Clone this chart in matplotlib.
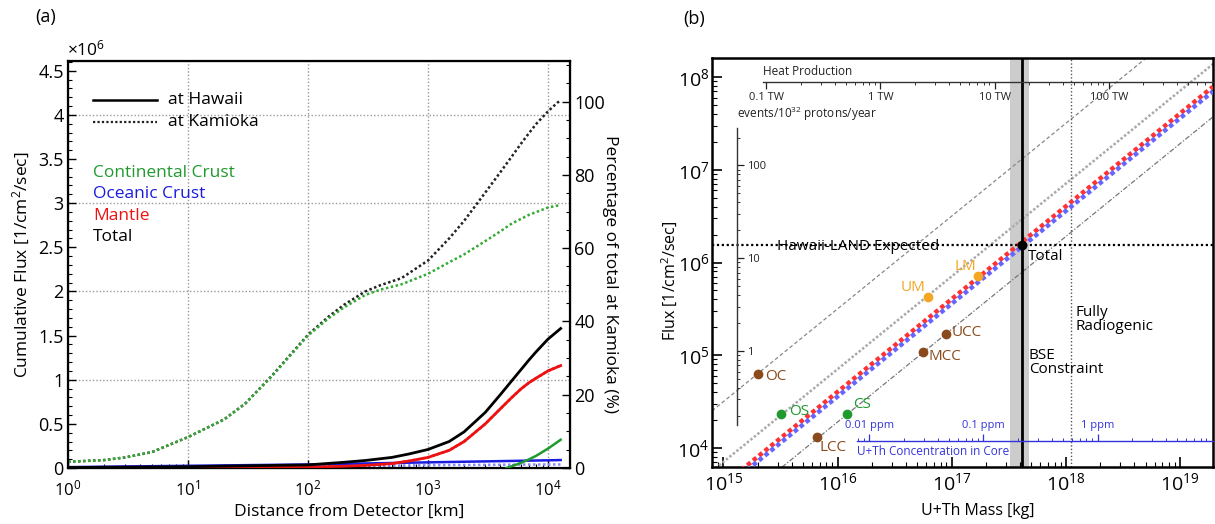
import numpy as np
import matplotlib
matplotlib.use('Agg')
import matplotlib.pyplot as plt
from matplotlib.ticker import (LogLocator, NullFormatter, FixedLocator,
                               FuncFormatter, MultipleLocator)

plt.rcParams['font.family'] = ['Open Sans', 'DejaVu Sans']
plt.rcParams['mathtext.fontset'] = 'custom'
plt.rcParams['mathtext.rm'] = 'Open Sans'
plt.rcParams['mathtext.it'] = 'Open Sans:italic'
plt.rcParams['mathtext.bf'] = 'Open Sans:bold'

# ---------------- Panel (a) data : cumulative flux [x1e6 /cm2/s] vs distance [km]
hawaii_total_km = [1, 3, 10, 30, 100, 200, 300, 500, 700, 1000, 1500, 2000,
                   3000, 4000, 5000, 6000, 7000, 8000, 10000, 12742]
hawaii_total = [0.005, 0.01, 0.015, 0.025, 0.035, 0.065, 0.085, 0.12, 0.16,
                0.21, 0.3, 0.41, 0.63, 0.83, 0.99, 1.12, 1.23, 1.32, 1.46, 1.58]

hawaii_mantle_km = [1, 10, 100, 200, 300, 500, 700, 1000, 1500, 2000, 3000,
                    4000, 5000, 6000, 7000, 8000, 10000, 12742]
hawaii_mantle = [0.0, 0.002, 0.01, 0.02, 0.03, 0.05, 0.08, 0.12, 0.2, 0.3,
                 0.5, 0.67, 0.8, 0.9, 0.97, 1.02, 1.1, 1.16]

hawaii_oc_km = [1, 10, 100, 1000, 10000, 12742]
hawaii_oc = [0.01, 0.025, 0.04, 0.064, 0.087, 0.09]

hawaii_cc_km = [4500, 5000, 6000, 7000, 8000, 10000, 12742]
hawaii_cc = [0.0, 0.02, 0.06, 0.1, 0.14, 0.22, 0.32]

kamioka_total_km = [1, 2, 3, 5, 10, 20, 30, 50, 100, 150, 200, 300, 400, 600,
                    1000, 1500, 2000, 3000, 4000, 5000, 6000, 7000, 8000,
                    10000, 12000, 12742]
kamioka_total = [0.07, 0.09, 0.12, 0.18, 0.35, 0.55, 0.73, 1.045, 1.51, 1.72,
                 1.85, 2.0, 2.07, 2.15, 2.35, 2.6, 2.8, 3.12, 3.35, 3.53, 3.68,
                 3.8, 3.9, 4.04, 4.14, 4.16]

kamioka_cc_km = [1, 2, 3, 5, 10, 20, 30, 50, 100, 150, 200, 300, 400, 600,
                 1000, 1500, 2000, 3000, 4000, 5000, 7000, 10000, 12742]
kamioka_cc = [0.07, 0.09, 0.12, 0.18, 0.35, 0.55, 0.73, 1.04, 1.5, 1.7, 1.82,
              1.96, 2.02, 2.08, 2.2, 2.33, 2.42, 2.57, 2.68, 2.77, 2.87, 2.95, 2.98]

kamioka_oc_km = [1, 100, 300, 1000, 3000, 10000, 12742]
kamioka_oc = [0.0, 0.012, 0.022, 0.032, 0.036, 0.04, 0.04]

kamioka_total_end = 4.15   # value defining 100 %

# ---------------- Panel (b) data
comp_names = ['OC', 'OS', 'LCC', 'CS', 'MCC', 'UCC', 'UM', 'LM']
comp_mass = [2.0e15, 3.2e15, 6.6e15, 1.2e16, 5.6e16, 8.9e16, 6.2e16, 1.7e17]
comp_flux = [6.3e4, 2.3e4, 1.3e4, 2.3e4, 1.08e5, 1.7e5, 4.2e5, 7.2e5]
comp_colors = ['#8b4a1c', '#1f9a2e', '#8b4a1c', '#1f9a2e', '#8b4a1c',
               '#8b4a1c', '#f5a623', '#f5a623']
total_mass = 4.1e17
total_flux = 1.55e6
hawaii_expected_flux = 1.55e6
bse_band = (3.25e17, 4.77e17)
fully_radiogenic_mass = 1.12e18
ratio_lines = [10 ** -10.50, 10 ** -11.15, 10 ** -11.72]   # flux / mass
ratio_band_red = 10 ** -11.395
ratio_band_blue = 10 ** -11.445
heat_ticks = [0.1, 1, 10, 100]            # TW
tnu_ticks = [1, 10, 100]                  # events / 1e32 p / yr
ppm_ticks = [0.01, 0.1, 1]                # ppm in core
KG_PER_TW = 10 ** 16.376
FLUX_PER_TNU = 10 ** 5.046
KG_PER_PPM = 10 ** 18.278

GREEN = '#1f9a2e'
BLUE = '#1a1ae0'
RED = '#ee1111'
DOT = (0, (1, 1))
TXT = 12.5

W, H = 1215, 524
fig = plt.figure(figsize=(W / 100, H / 100), dpi=100)

# =============================== Panel (a)
ax = fig.add_axes([68 / W, (H - 468) / H, 502 / W, 407 / H])
ax.set_xscale('log')
ax.set_xlim(1, 10 ** 4.183)
ymax_a = 4.61
ax.set_ylim(0, ymax_a)

for v in [1, 2, 3, 4]:
    ax.axhline(v, color='#999999', ls=(0, (1, 1.5)), lw=1, zorder=0)
for v in [10, 100, 1000, 10000]:
    ax.axvline(v, color='#999999', ls=(0, (1, 1.5)), lw=1, zorder=0)

ax.plot(kamioka_oc_km, kamioka_oc, color='#8888ff', ls=DOT, lw=1.8, zorder=2)
ax.plot(hawaii_mantle_km, hawaii_mantle, color=RED, ls=DOT, lw=1.8, zorder=2)
ax.plot(kamioka_total_km, kamioka_total, color='#222222', ls=DOT, lw=1.8, zorder=3)
ax.plot(kamioka_cc_km, kamioka_cc, color='#33aa33', ls=DOT, lw=1.8, zorder=3.5)
ax.plot(hawaii_oc_km, hawaii_oc, color=BLUE, lw=1.8, zorder=4)
ax.plot(hawaii_cc_km, hawaii_cc, color=GREEN, lw=1.8, zorder=4)
ax.plot(hawaii_mantle_km, hawaii_mantle, color=RED, lw=2, zorder=4)
ax.plot(hawaii_total_km, hawaii_total, color='black', lw=2, zorder=5)

ax.yaxis.set_major_locator(MultipleLocator(0.5))
ax.yaxis.set_minor_locator(MultipleLocator(0.1))
ax.yaxis.set_major_formatter(FuncFormatter(lambda v, p: f'{v:g}'))
ax.xaxis.set_minor_locator(LogLocator(subs=range(2, 10)))
ax.xaxis.set_minor_formatter(NullFormatter())
ax.tick_params(which='major', direction='in', length=6, width=1, pad=3)
ax.tick_params(which='minor', direction='in', length=3, width=0.8)
ax.tick_params(axis='y', which='major', labelsize=13)
ax.tick_params(axis='x', which='major', labelsize=12, pad=8)
for s in ax.spines.values():
    s.set_linewidth(1.6)

ax2 = ax.twinx()
ax2.set_ylim(0, ymax_a / kamioka_total_end * 100)
ax2.yaxis.set_major_locator(MultipleLocator(20))
ax2.yaxis.set_minor_locator(MultipleLocator(5))
ax2.tick_params(which='major', direction='in', length=6, width=1, labelsize=13, pad=3)
ax2.tick_params(which='minor', direction='in', length=3, width=0.8)

ax.set_xlabel('Distance from Detector [km]', fontsize=TXT)
ax.xaxis.set_label_coords(0.56, -0.088)
ax.set_ylabel('Cumulative Flux [1/cm$^2$/sec]', fontsize=TXT)
ax.yaxis.set_label_coords(-0.071, 0.5)
ax2.set_ylabel('Percentage of total at Kamioka (%)', fontsize=TXT, rotation=270,
               va='center')
ax2.yaxis.set_label_coords(1.08, 0.477)
ax.text(-0.002, 1.005, r'$\times$10$^6$', transform=ax.transAxes, fontsize=TXT,
        ha='left', va='bottom')

# legend (manual)
ax.plot([0.05, 0.177], [0.904, 0.904], transform=ax.transAxes, color='black', lw=1.8)
ax.plot([0.05, 0.177], [0.850, 0.850], transform=ax.transAxes, color='#222222',
        lw=1.6, ls=DOT)
ax.text(0.199, 0.904, 'at Hawaii', transform=ax.transAxes, fontsize=TXT, va='center')
ax.text(0.199, 0.850, 'at Kamioka', transform=ax.transAxes, fontsize=TXT, va='center')
for txt, col, yy in [('Continental Crust', GREEN, 0.725), ('Oceanic Crust', BLUE, 0.674),
                     ('Mantle', RED, 0.619), ('Total', 'black', 0.567)]:
    ax.text(0.05, yy, txt, color=col, transform=ax.transAxes, fontsize=TXT, va='center')

fig.text(35 / W, 1 - 17 / H, '(a)', fontsize=13, va='center')
fig.text(683 / W, 1 - 19 / H, '(b)', fontsize=13, va='center')

# =============================== Panel (b)
axb = fig.add_axes([712 / W, (H - 467) / H, 501 / W, 409 / H])
axb.set_xscale('log')
axb.set_yscale('log')
lx0, lx1 = 14.90, 19.29
ly0, ly1 = 3.795, 8.205
axb.set_xlim(10 ** lx0, 10 ** lx1)
axb.set_ylim(10 ** ly0, 10 ** ly1)

xs = np.array([10 ** lx0, 10 ** lx1])
axb.axvspan(*bse_band, color='#cccccc', lw=0, zorder=1)
axb.plot(xs, ratio_lines[0] * xs, color='#888888', ls=(0, (3, 2)), lw=0.9, zorder=2)
axb.plot(xs, ratio_lines[1] * xs, color='#aaaaaa', ls=(0, (1, 0.8)), lw=1.8, zorder=2)
axb.plot(xs, ratio_lines[2] * xs, color='#777777', ls=(0, (4, 1.5, 1, 1.5)), lw=0.9, zorder=2)
axb.plot(xs, ratio_band_red * xs, color='#ff3333', ls=(0, (1, 0.7)), lw=3.2, zorder=3)
axb.plot(xs, ratio_band_blue * xs, color='#6666ff', ls=(0, (1, 0.7)), lw=3.2, zorder=3)

axb.axvline(fully_radiogenic_mass, color='#555555', ls=(0, (1, 1.5)), lw=1, zorder=2)
axb.axhline(hawaii_expected_flux, color='black', ls=(0, (1, 1.2)), lw=1.6, zorder=4)
axb.axvline(total_mass, color='black', lw=2, zorder=4)

offsets = {'OC': (7, -3, 'left'), 'OS': (8, 3, 'left'), 'LCC': (3, -10, 'left'),
           'CS': (7, 10, 'left'), 'MCC': (6, -4, 'left'), 'UCC': (6, 1, 'left'),
           'UM': (-2, 10, 'right'), 'LM': (-2, 9, 'right')}
for n, m, f, c in zip(comp_names, comp_mass, comp_flux, comp_colors):
    axb.plot([m], [f], 'o', color=c, ms=6, zorder=6)
    dx, dy, ha = offsets[n]
    axb.annotate(n, (m, f), xytext=(dx, dy), textcoords='offset pixels', color=c,
                 fontsize=11, ha=ha, va='center', zorder=7)
axb.plot([total_mass], [total_flux], 'o', color='black', ms=6, zorder=7)
axb.annotate('Total', (total_mass, total_flux), xytext=(6, -12),
             textcoords='offset pixels', fontsize=11, ha='left', va='center')

axb.text(0.13, 0.522, 'Hawaii-LAND Expected', transform=axb.transAxes, fontsize=11,
         va='bottom')
axb.text(0.725, 0.36, 'Fully\nRadiogenic', transform=axb.transAxes, fontsize=11,
         va='center', linespacing=0.95)
axb.text(0.632, 0.255, 'BSE\nConstraint', transform=axb.transAxes, fontsize=11,
         va='center', linespacing=0.95)

axb.xaxis.set_major_locator(LogLocator(base=10, numticks=20))
axb.yaxis.set_major_locator(LogLocator(base=10, numticks=20))
axb.xaxis.set_minor_locator(LogLocator(subs=range(2, 10), numticks=50))
axb.yaxis.set_minor_locator(LogLocator(subs=range(2, 10), numticks=50))
axb.xaxis.set_minor_formatter(NullFormatter())
axb.yaxis.set_minor_formatter(NullFormatter())
axb.tick_params(which='major', direction='in', length=7, width=1.2, labelsize=14)
axb.tick_params(which='minor', direction='in', length=3.5, width=0.8)
axb.tick_params(axis='y', which='major', pad=2)
for s in axb.spines.values():
    s.set_linewidth(1.8)
axb.set_xlabel('U+Th Mass [kg]', fontsize=11.5)
axb.xaxis.set_label_coords(0.53, -0.088)
axb.set_ylabel('Flux [1/cm$^2$/sec]', fontsize=11.5)
axb.yaxis.set_label_coords(-0.064, 0.455)

# --- heat production axis
h_left = 0.102
h_y = 0.941
axh = axb.inset_axes([h_left, h_y, 1 - h_left, 1e-4])
axh.set_xscale('log')
m_left = 10 ** (lx0 + h_left * (lx1 - lx0))
axh.set_xlim(m_left / KG_PER_TW, 10 ** lx1 / KG_PER_TW)
axh.patch.set_visible(False)
for k in ['top', 'left', 'right']:
    axh.spines[k].set_visible(False)
axh.spines['bottom'].set_linewidth(1)
axh.spines['bottom'].set_color('#333333')
axh.set_yticks([])
axh.xaxis.set_major_locator(FixedLocator(heat_ticks))
axh.xaxis.set_minor_locator(LogLocator(subs=range(2, 10), numticks=50))
axh.xaxis.set_minor_formatter(NullFormatter())
axh.xaxis.set_major_formatter(FuncFormatter(lambda v, p: f'{v:g} TW'))
axh.tick_params(which='major', direction='out', length=5, width=0.9,
                labelsize=8, pad=2, colors='#222222')
axh.tick_params(which='minor', direction='out', length=2.5, width=0.7, colors='#333333')
axb.text(h_left, h_y + 0.01, 'Heat Production', transform=axb.transAxes,
         fontsize=8.5, va='bottom', color='#222222')

# --- events axis
e_x = 0.05
e_y0, e_y1 = 0.103, 0.829
axe = axb.inset_axes([e_x, e_y0, 1e-4, e_y1 - e_y0])
axe.set_yscale('log')
f0 = 10 ** (ly0 + e_y0 * (ly1 - ly0))
f1 = 10 ** (ly0 + e_y1 * (ly1 - ly0))
axe.set_ylim(f0 / FLUX_PER_TNU, f1 / FLUX_PER_TNU)
axe.patch.set_visible(False)
for k in ['top', 'left', 'bottom']:
    axe.spines[k].set_visible(False)
axe.spines['right'].set_linewidth(1)
axe.spines['right'].set_color('#333333')
axe.set_xticks([])
axe.yaxis.tick_right()
axe.yaxis.set_major_locator(FixedLocator(tnu_ticks))
axe.yaxis.set_minor_locator(LogLocator(subs=range(2, 10), numticks=50))
axe.yaxis.set_minor_formatter(NullFormatter())
axe.yaxis.set_major_formatter(FuncFormatter(lambda v, p: f'{v:g}'))
axe.tick_params(which='major', direction='out', length=5, width=0.9,
                labelsize=8, pad=2, colors='#222222')
axe.tick_params(which='minor', direction='out', length=2.5, width=0.7, colors='#333333')
axb.text(e_x, e_y1 + 0.012, 'events/10$^{32}$ protons/year', transform=axb.transAxes,
         fontsize=8.5, va='bottom', color='#222222')

# --- core concentration axis
c_left = 0.289
c_y = 0.0636
axc = axb.inset_axes([c_left, c_y, 1 - c_left, 1e-4])
axc.set_xscale('log')
mc_left = 10 ** (lx0 + c_left * (lx1 - lx0))
axc.set_xlim(mc_left / KG_PER_PPM, 10 ** lx1 / KG_PER_PPM)
axc.patch.set_visible(False)
for k in ['bottom', 'left', 'right']:
    axc.spines[k].set_visible(False)
axc.spines['top'].set_linewidth(1)
axc.spines['top'].set_color('#3333dd')
axc.set_yticks([])
axc.xaxis.tick_top()
axc.xaxis.set_major_locator(FixedLocator(ppm_ticks))
axc.xaxis.set_minor_locator(LogLocator(subs=range(2, 10), numticks=50))
axc.xaxis.set_minor_formatter(NullFormatter())
axc.xaxis.set_major_formatter(FuncFormatter(lambda v, p: f'{v:g} ppm'))
axc.tick_params(which='major', direction='out', length=5, width=0.9,
                labelsize=8, pad=2, colors='#3333dd')
axc.tick_params(which='minor', direction='out', length=2.5, width=0.7, colors='#3333dd')
axb.text(c_left, c_y - 0.01, 'U+Th Concentration in Core', transform=axb.transAxes,
         fontsize=8.5, va='top', color='#3333dd')

fig.savefig('out.png', dpi=100)
